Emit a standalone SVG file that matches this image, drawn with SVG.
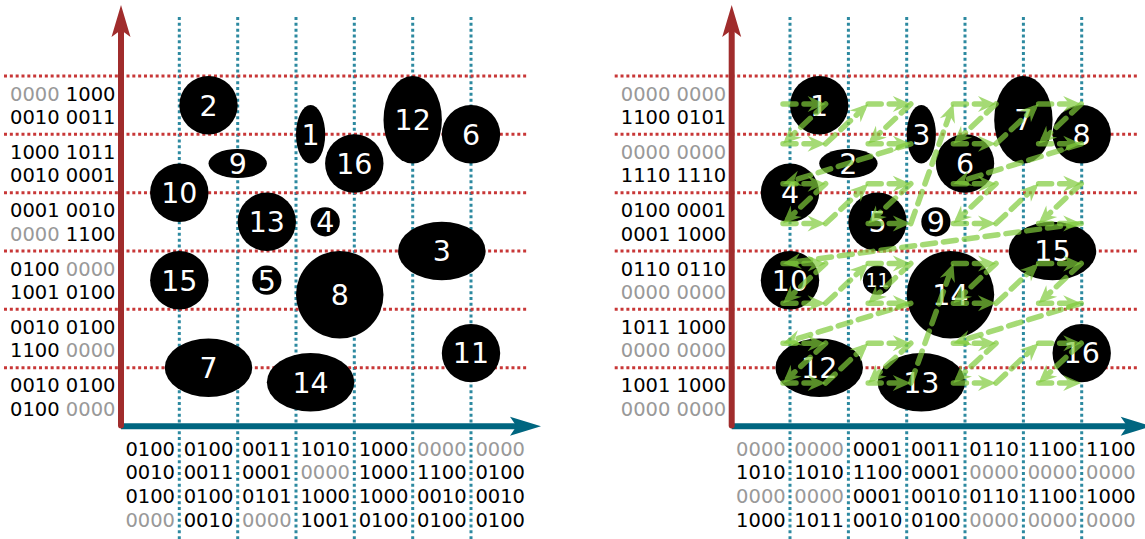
<svg xmlns="http://www.w3.org/2000/svg" width="1145" height="539" viewBox="0 0 1145 539">
  <style>
    .hgrid { fill: none; stroke: #c83737; stroke-width: 3; stroke-dasharray: 3 2.833; }
    .vgrid { fill: none; stroke: #2c89a0; stroke-width: 3; stroke-dasharray: 3 2.833; }
    .yaxis { stroke: #a02c2c; stroke-width: 6; stroke-linecap: round; fill: none; }
    .yhead { fill: #a02c2c; }
    .xaxis { stroke: #006680; stroke-width: 6; fill: none; }
    .xhead { fill: #006680; }
    .bits { font-family: "DejaVu Sans", sans-serif; font-size: 19.5px; fill: #000; }
    .g { fill: #999999; }
    .node { fill: #000; }
    .lbl { font-family: "DejaVu Sans", sans-serif; font-size: 28.5px; fill: #fff; text-anchor: middle; }
    .lbl.small { font-size: 19px; }
    .arr { stroke: #7fcb3b; stroke-width: 5.5; stroke-linecap: round; stroke-dasharray: 13 8; fill: none; opacity: 0.7; marker-end: url(#ah); }
  </style>
  <defs>
    <marker id="ah" markerUnits="userSpaceOnUse" orient="auto" overflow="visible" markerWidth="1" markerHeight="1" refX="0" refY="0">
      <path d="M7,0 L-11,-8 L-5,0 L-11,8 Z" fill="#7fcb3b"/>
    </marker>

    <!-- shared grid and axes of one panel -->
    <g id="frame">
      <path class="vgrid" d="M179.3,17V539 M237.7,17V539 M296,17V539 M354.3,17V539 M412.7,17V539 M471,17V539"/>
      <path class="hgrid" d="M4,76H528 M4,134.3H528 M4,192.7H528 M4,251H528 M4,309.3H528 M4,367.7H528"/>
      <line class="xaxis" x1="121" y1="426.3" x2="518" y2="426.3"/>
      <path class="xhead" d="M541,426.3 L510,416.8 L516.5,426.3 L510,435.8 Z"/>
      <line class="yaxis" x1="121" y1="425.5" x2="121" y2="32"/>
      <path class="yhead" d="M121,5 L130.5,37 L121,30 L111.5,37 Z"/>
    </g>

    <!-- Morton curve step primitives, shortened so the head tip lands on the vertex -->
    <line id="h" class="arr" x1="0" y1="0" x2="35.6" y2="0"/>
    <line id="dl" class="arr" x1="0" y1="0" x2="-37.49" y2="35.08"/>
    <line id="ur" class="arr" x1="0" y1="0" x2="37.49" y2="-35.08"/>
    <line id="c3" class="arr" x1="0" y1="0" x2="-121.12" y2="37.78"/>
    <line id="u3" class="arr" x1="0" y1="0" x2="40.25" y2="-112.99"/>
    <line id="c7" class="arr" x1="0" y1="0" x2="-291.26" y2="38.93"/>

    <!-- one 4x4 block of the Z-order curve -->
    <g id="z4">
      <use href="#h" x="0" y="0"/>
      <use href="#dl" x="42.6" y="0"/>
      <use href="#h" x="0" y="39.86"/>
      <use href="#ur" x="42.6" y="39.86"/>
      <use href="#h" x="85.2" y="0"/>
      <use href="#dl" x="127.8" y="0"/>
      <use href="#h" x="85.2" y="39.86"/>
      <use href="#c3" x="127.8" y="39.86"/>
      <use href="#h" x="0" y="79.71"/>
      <use href="#dl" x="42.6" y="79.71"/>
      <use href="#h" x="0" y="119.57"/>
      <use href="#ur" x="42.6" y="119.57"/>
      <use href="#h" x="85.2" y="79.71"/>
      <use href="#dl" x="127.8" y="79.71"/>
      <use href="#h" x="85.2" y="119.57"/>
    </g>
  </defs>

  <!-- left panel -->
  <g id="left-panel">
    <use href="#frame"/>
    <g id="left-row-bits" class="bits" text-anchor="end">
      <text x="115.5" y="100.6"><tspan class="g">0000</tspan> 1000</text>
      <text x="115.5" y="124">0010 0011</text>
      <text x="115.5" y="158.9">1000 1011</text>
      <text x="115.5" y="182.3">0010 0001</text>
      <text x="115.5" y="217.2">0001 0010</text>
      <text x="115.5" y="240.6"><tspan class="g">0000</tspan> 1100</text>
      <text x="115.5" y="275.6">0100 <tspan class="g">0000</tspan></text>
      <text x="115.5" y="299">1001 0100</text>
      <text x="115.5" y="333.9">0010 0100</text>
      <text x="115.5" y="357.3">1100 <tspan class="g">0000</tspan></text>
      <text x="115.5" y="392.2">0010 0100</text>
      <text x="115.5" y="415.6">0100 <tspan class="g">0000</tspan></text>
    </g>
    <g id="left-col-bits" class="bits" text-anchor="middle">
      <text y="455.5"><tspan x="150.2">0100</tspan><tspan x="208.5">0100</tspan><tspan x="266.8">0011</tspan><tspan x="325.2">1010</tspan><tspan x="383.5">1000</tspan><tspan x="441.8" class="g">0000</tspan><tspan x="500.2" class="g">0000</tspan></text>
      <text y="479.4"><tspan x="150.2">0010</tspan><tspan x="208.5">0011</tspan><tspan x="266.8">0001</tspan><tspan x="325.2" class="g">0000</tspan><tspan x="383.5">1000</tspan><tspan x="441.8">1100</tspan><tspan x="500.2">0100</tspan></text>
      <text y="503.3"><tspan x="150.2">0100</tspan><tspan x="208.5">0100</tspan><tspan x="266.8">0101</tspan><tspan x="325.2">1000</tspan><tspan x="383.5">1000</tspan><tspan x="441.8">0010</tspan><tspan x="500.2">0010</tspan></text>
      <text y="527.2"><tspan x="150.2" class="g">0000</tspan><tspan x="208.5">0010</tspan><tspan x="266.8" class="g">0000</tspan><tspan x="325.2">1001</tspan><tspan x="383.5">0100</tspan><tspan x="441.8">0100</tspan><tspan x="500.2">0100</tspan></text>
    </g>
    <g id="L-node-2"><circle class="node" cx="208.5" cy="105.2" r="29.2"/><text class="lbl" x="208.5" y="115.5">2</text></g>
    <g id="L-node-9"><ellipse class="node" cx="237.7" cy="163.5" rx="29.2" ry="14.6"/><text class="lbl" x="237.7" y="173.8">9</text></g>
    <g id="L-node-10"><circle class="node" cx="179.3" cy="192.7" r="29.2"/><text class="lbl" x="179.3" y="203">10</text></g>
    <g id="L-node-13"><circle class="node" cx="266.8" cy="221.8" r="29.2"/><text class="lbl" x="266.8" y="232.1">13</text></g>
    <g id="L-node-1"><ellipse class="node" cx="310.6" cy="134.3" rx="14.6" ry="29.2"/><text class="lbl" x="310.6" y="144.6">1</text></g>
    <g id="L-node-16"><circle class="node" cx="354.3" cy="163.5" r="29.2"/><text class="lbl" x="354.3" y="173.8">16</text></g>
    <g id="L-node-12"><ellipse class="node" cx="412.7" cy="119.75" rx="29.2" ry="43.75"/><text class="lbl" x="412.7" y="130.05">12</text></g>
    <g id="L-node-6"><circle class="node" cx="471" cy="134.3" r="29.2"/><text class="lbl" x="471" y="144.6">6</text></g>
    <g id="L-node-4"><circle class="node" cx="325.2" cy="221.8" r="14.6"/><text class="lbl" x="325.2" y="232.1">4</text></g>
    <g id="L-node-3"><ellipse class="node" cx="441.8" cy="251" rx="43.75" ry="29.2"/><text class="lbl" x="441.8" y="261.3">3</text></g>
    <g id="L-node-15"><circle class="node" cx="179.3" cy="280.2" r="29.2"/><text class="lbl" x="179.3" y="290.5">15</text></g>
    <g id="L-node-5"><circle class="node" cx="266.8" cy="280.2" r="14.6"/><text class="lbl" x="266.8" y="290.5">5</text></g>
    <g id="L-node-8"><circle class="node" cx="339.75" cy="294.75" r="43.75"/><text class="lbl" x="339.75" y="305.05">8</text></g>
    <g id="L-node-11"><circle class="node" cx="471" cy="353.1" r="29.2"/><text class="lbl" x="471" y="363.4">11</text></g>
    <g id="L-node-7"><ellipse class="node" cx="208.5" cy="367.7" rx="43.75" ry="29.2"/><text class="lbl" x="208.5" y="378">7</text></g>
    <g id="L-node-14"><ellipse class="node" cx="310.6" cy="382.25" rx="43.75" ry="29.2"/><text class="lbl" x="310.6" y="392.55">14</text></g>
  </g>

  <!-- right panel: same layout, objects renumbered in Morton order -->
  <g id="right-panel" transform="translate(610.7 0)">
    <use href="#frame"/>
    <g id="right-row-bits" class="bits" text-anchor="end">
      <text x="115.5" y="100.6" class="g">0000 0000</text>
      <text x="115.5" y="124">1100 0101</text>
      <text x="115.5" y="158.9" class="g">0000 0000</text>
      <text x="115.5" y="182.3">1110 1110</text>
      <text x="115.5" y="217.2">0100 0001</text>
      <text x="115.5" y="240.6">0001 1000</text>
      <text x="115.5" y="275.6">0110 0110</text>
      <text x="115.5" y="299" class="g">0000 0000</text>
      <text x="115.5" y="333.9">1011 1000</text>
      <text x="115.5" y="357.3" class="g">0000 0000</text>
      <text x="115.5" y="392.2">1001 1000</text>
      <text x="115.5" y="415.6" class="g">0000 0000</text>
    </g>
    <g id="right-col-bits" class="bits" text-anchor="middle">
      <text y="455.5"><tspan x="150.2" class="g">0000</tspan><tspan x="208.5" class="g">0000</tspan><tspan x="266.8">0001</tspan><tspan x="325.2">0011</tspan><tspan x="383.5">0110</tspan><tspan x="441.8">1100</tspan><tspan x="500.2">1100</tspan></text>
      <text y="479.4"><tspan x="150.2">1010</tspan><tspan x="208.5">1010</tspan><tspan x="266.8">1100</tspan><tspan x="325.2">0001</tspan><tspan x="383.5" class="g">0000</tspan><tspan x="441.8" class="g">0000</tspan><tspan x="500.2" class="g">0000</tspan></text>
      <text y="503.3"><tspan x="150.2" class="g">0000</tspan><tspan x="208.5" class="g">0000</tspan><tspan x="266.8">0001</tspan><tspan x="325.2">0010</tspan><tspan x="383.5">0110</tspan><tspan x="441.8">1100</tspan><tspan x="500.2">1000</tspan></text>
      <text y="527.2"><tspan x="150.2">1000</tspan><tspan x="208.5">1011</tspan><tspan x="266.8">0010</tspan><tspan x="325.2">0100</tspan><tspan x="383.5" class="g">0000</tspan><tspan x="441.8" class="g">0000</tspan><tspan x="500.2" class="g">0000</tspan></text>
    </g>
    <g id="R-node-1"><circle class="node" cx="208.5" cy="105.2" r="29.2"/><text class="lbl" x="208.5" y="115.5">1</text></g>
    <g id="R-node-2"><ellipse class="node" cx="237.7" cy="163.5" rx="29.2" ry="14.6"/><text class="lbl" x="237.7" y="173.8">2</text></g>
    <g id="R-node-4"><circle class="node" cx="179.3" cy="192.7" r="29.2"/><text class="lbl" x="179.3" y="203">4</text></g>
    <g id="R-node-5"><circle class="node" cx="266.8" cy="221.8" r="29.2"/><text class="lbl" x="266.8" y="232.1">5</text></g>
    <g id="R-node-3"><ellipse class="node" cx="310.6" cy="134.3" rx="14.6" ry="29.2"/><text class="lbl" x="310.6" y="144.6">3</text></g>
    <g id="R-node-6"><circle class="node" cx="354.3" cy="163.5" r="29.2"/><text class="lbl" x="354.3" y="173.8">6</text></g>
    <g id="R-node-7"><ellipse class="node" cx="412.7" cy="119.75" rx="29.2" ry="43.75"/><text class="lbl" x="412.7" y="130.05">7</text></g>
    <g id="R-node-8"><circle class="node" cx="471" cy="134.3" r="29.2"/><text class="lbl" x="471" y="144.6">8</text></g>
    <g id="R-node-9"><circle class="node" cx="325.2" cy="221.8" r="14.6"/><text class="lbl" x="325.2" y="232.1">9</text></g>
    <g id="R-node-15"><ellipse class="node" cx="441.8" cy="251" rx="43.75" ry="29.2"/><text class="lbl" x="441.8" y="261.3">15</text></g>
    <g id="R-node-10"><circle class="node" cx="179.3" cy="280.2" r="29.2"/><text class="lbl" x="179.3" y="290.5">10</text></g>
    <g id="R-node-11"><circle class="node" cx="266.8" cy="280.2" r="14.6"/><text class="lbl small" x="266.8" y="287.1">11</text></g>
    <g id="R-node-14"><circle class="node" cx="339.75" cy="294.75" r="43.75"/><text class="lbl" x="339.75" y="305.05">14</text></g>
    <g id="R-node-16"><circle class="node" cx="471" cy="353.1" r="29.2"/><text class="lbl" x="471" y="363.4">16</text></g>
    <g id="R-node-12"><ellipse class="node" cx="208.5" cy="367.7" rx="43.75" ry="29.2"/><text class="lbl" x="208.5" y="378">12</text></g>
    <g id="R-node-13"><ellipse class="node" cx="310.6" cy="382.25" rx="43.75" ry="29.2"/><text class="lbl" x="310.6" y="392.55">13</text></g>
  </g>

  <!-- connectors: 8x8 Z-order (Morton) traversal drawn over the right panel -->
  <g id="connectors">
    <use href="#z4" x="783" y="104"/>
    <use href="#u3" x="910.8" y="223.57"/>
    <use href="#z4" x="953.4" y="104"/>
    <use href="#c7" x="1081.2" y="223.57"/>
    <use href="#z4" x="783" y="263.43"/>
    <use href="#u3" x="910.8" y="383"/>
    <use href="#z4" x="953.4" y="263.43"/>
  </g>
</svg>
